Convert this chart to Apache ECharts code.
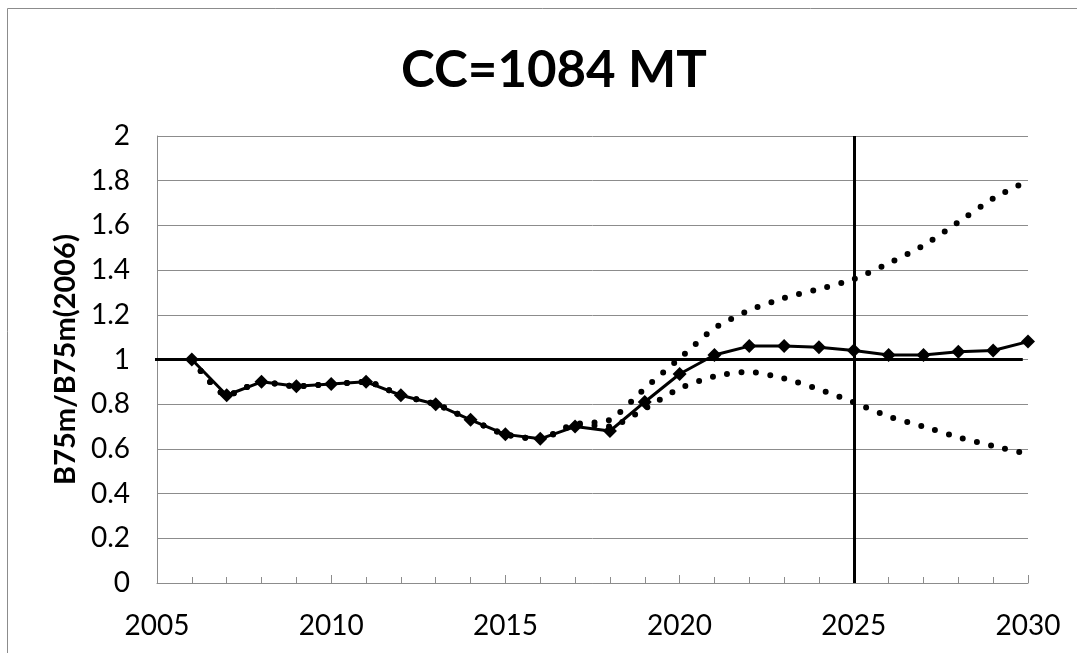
<!DOCTYPE html>
<html>
<head>
<meta charset="utf-8">
<script src="https://cdn.jsdelivr.net/npm/echarts@6/dist/echarts.min.js"></script>
<style>
html,body{margin:0;padding:0;background:#fff;}
#main{width:1077px;height:653px;}
</style>
</head>
<body>
<div id="main"></div>
<script>
// years 2006..2030
var years = [2006,2007,2008,2009,2010,2011,2012,2013,2014,2015,2016,2017,2018,
             2019,2020,2021,2022,2023,2024,2025,2026,2027,2028,2029,2030];
var estimate = [1.00,0.84,0.90,0.88,0.89,0.90,0.84,0.80,0.73,0.665,0.645,0.70,0.68,
                0.81,0.935,1.02,1.06,1.06,1.055,1.04,1.02,1.02,1.035,1.04,1.08];
var upper = [1.00,0.84,0.90,0.88,0.89,0.90,0.84,0.80,0.73,0.665,0.645,0.71,0.73,
             0.87,1.005,1.14,1.22,1.275,1.315,1.36,1.43,1.51,1.615,1.72,1.80];
var lower = [1.00,0.84,0.90,0.88,0.89,0.90,0.84,0.80,0.73,0.665,0.645,0.71,0.70,
             0.78,0.87,0.925,0.945,0.915,0.867,0.808,0.745,0.70,0.652,0.613,0.577];
var refYear = 2025;
var refLevel = 1;
var refSpan = [2004.7, 2029.85];
var xTicks = [2005, 2010, 2015, 2020, 2025, 2030];
var yTicks = [0, 0.2, 0.4, 0.6, 0.8, 1, 1.2, 1.4, 1.6, 1.8, 2];

function pairs(vals){
    var out = [];
    for (var i = 0; i < years.length; i++) out.push([years[i], vals[i]]);
    return out;
}

var chart = echarts.init(document.getElementById('main'));
var labelFont = "Lato, sans-serif";

var option = {
    backgroundColor: '#fff',
    animation: false,
    title: {
        text: 'CC=1084 MT',
        left: 549,
        top: 40,
        textAlign: 'center',
        textStyle: {fontFamily: labelFont, fontWeight: 'bold', fontSize: 51, color: '#000'}
    },
    graphic: [{
        type: 'rect',
        shape: {x: 7.5, y: 8.5, width: 1200, height: 800},
        style: {fill: null, stroke: '#8c8c8c', lineWidth: 1},
        silent: true
    }],
    grid: {left: 157, right: 49, top: 136, bottom: 70},
    xAxis: {
        type: 'value',
        min: xTicks[0],
        max: xTicks[xTicks.length - 1],
        interval: 5,
        axisLine: {lineStyle: {color: '#8c8c8c', width: 1}},
        axisTick: {show: true, inside: true, length: 8, lineStyle: {color: '#8c8c8c'}},
        minorTick: {show: true, splitNumber: 5, length: 6, lineStyle: {color: '#8c8c8c'}},
        splitLine: {show: false},
        axisLabel: {
            fontFamily: labelFont, fontSize: 28, color: '#000', margin: 29,
            formatter: function(v){ return String(v); }
        }
    },
    yAxis: {
        type: 'value',
        min: yTicks[0],
        max: yTicks[yTicks.length - 1],
        interval: 0.2,
        name: 'B75m/B75m(2006)',
        nameLocation: 'middle',
        nameGap: 76,
        nameTextStyle: {fontFamily: labelFont, fontWeight: 'bold', fontSize: 29, color: '#000'},
        axisLine: {show: true, lineStyle: {color: '#8c8c8c', width: 1}},
        axisTick: {show: false},
        splitLine: {lineStyle: {color: '#8c8c8c', width: 1}},
        axisLabel: {
            fontFamily: labelFont, fontSize: 28, color: '#000', margin: 27,
            formatter: function(v){ return String(Math.round(v * 10) / 10); }
        }
    },
    series: [
        {
            name: 'ref',
            type: 'line',
            data: [[refSpan[0], refLevel], [refSpan[1], refLevel]],
            clip: false,
            symbol: 'none',
            silent: true,
            z: 1,
            lineStyle: {color: '#000', width: 3},
            markLine: {
                silent: true,
                symbol: ['none', 'none'],
                label: {show: false},
                lineStyle: {color: '#000', width: 3, type: 'solid'},
                data: [{xAxis: refYear}]
            }
        },
        {
            name: 'upper',
            type: 'line',
            data: pairs(upper),
            smooth: 0.22,
            symbol: 'none',
            z: 2,
            lineStyle: {color: '#000', width: 6, type: [0, 14.5], cap: 'round'}
        },
        {
            name: 'lower',
            type: 'line',
            data: pairs(lower),
            smooth: 0.22,
            symbol: 'none',
            z: 2,
            lineStyle: {color: '#000', width: 6, type: [0, 14.5], cap: 'round'}
        },
        {
            name: 'estimate',
            type: 'line',
            data: pairs(estimate),
            symbol: 'diamond',
            symbolSize: 14,
            z: 3,
            itemStyle: {color: '#000'},
            lineStyle: {color: '#000', width: 3}
        }
    ]
};
chart.setOption(option);
</script>
</body>
</html>
